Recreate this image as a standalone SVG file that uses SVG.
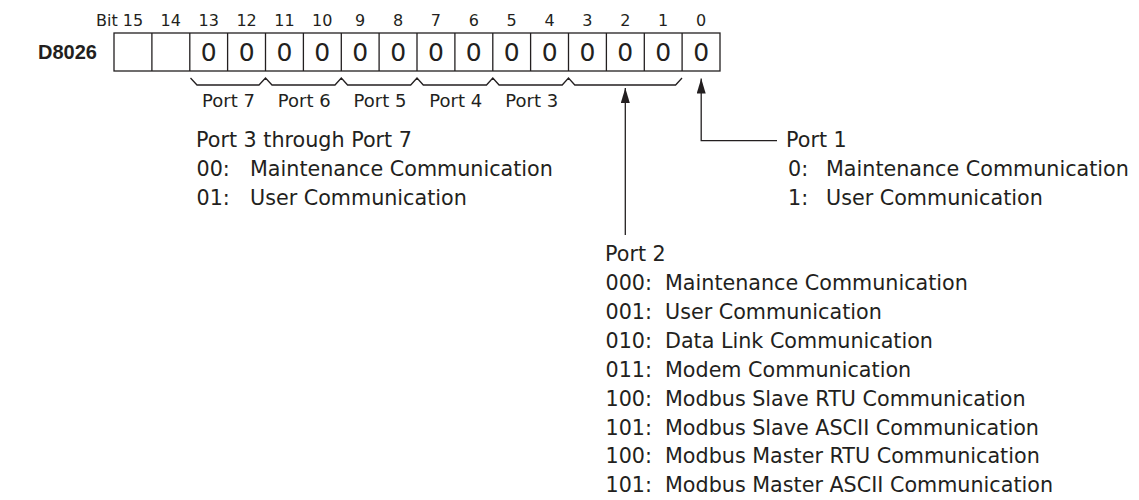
<svg xmlns="http://www.w3.org/2000/svg" width="1139" height="500" viewBox="0 0 1139 500">
<defs>
<style>
.t{font-family:"DejaVu Sans",sans-serif;fill:#231f20}
.bit{font-size:16px;text-anchor:middle}
.dig{font-size:25px;text-anchor:middle}
.pl{font-size:18px;text-anchor:middle}
.body{font-size:20.7px}
.ln{stroke:#231f20;stroke-width:1.3;fill:none}
.cell{stroke:#231f20;stroke-width:1.3;fill:#fff}
</style>
<marker id="ah" viewBox="0 0 15 9" refX="15" refY="4.5" markerWidth="15" markerHeight="9" markerUnits="userSpaceOnUse" orient="auto">
<path d="M0,0 L15,4.5 L0,9 Z" fill="#231f20"/>
</marker>
</defs>
<rect width="1139" height="500" fill="#fff"/>

<g id="register">
<text x="38" y="59" style="font-family:'Liberation Sans',Arial,sans-serif;font-weight:bold;font-size:20px;fill:#231f20">D8026</text>
<rect class="cell" x="114" y="33" width="606" height="38"/>
<path class="ln" d="M151.9,33V71M189.8,33V71M227.6,33V71M265.5,33V71M303.4,33V71M341.3,33V71M379.1,33V71M417,33V71M454.9,33V71M492.8,33V71M530.6,33V71M568.5,33V71M606.4,33V71M644.3,33V71M682.1,33V71"/>
<g class="t bit">
<text x="143.2" y="26" style="text-anchor:end">Bit 15</text>
<text x="170.8" y="26">14</text>
<text x="208.7" y="26">13</text>
<text x="246.6" y="26">12</text>
<text x="284.4" y="26">11</text>
<text x="322.3" y="26">10</text>
<text x="360.2" y="26">9</text>
<text x="398.1" y="26">8</text>
<text x="435.9" y="26">7</text>
<text x="473.8" y="26">6</text>
<text x="511.7" y="26">5</text>
<text x="549.6" y="26">4</text>
<text x="587.4" y="26">3</text>
<text x="625.3" y="26">2</text>
<text x="663.2" y="26">1</text>
<text x="701.1" y="26">0</text>
</g>
<g class="t dig">
<text x="208.7" y="61">0</text>
<text x="246.6" y="61">0</text>
<text x="284.4" y="61">0</text>
<text x="322.3" y="61">0</text>
<text x="360.2" y="61">0</text>
<text x="398.1" y="61">0</text>
<text x="435.9" y="61">0</text>
<text x="473.8" y="61">0</text>
<text x="511.7" y="61">0</text>
<text x="549.6" y="61">0</text>
<text x="587.4" y="61">0</text>
<text x="625.3" y="61">0</text>
<text x="663.2" y="61">0</text>
<text x="701.1" y="61">0</text>
</g>
</g>

<g id="braces">
<path class="ln" d="M190.5,78 L197,85 L259,85 L265.5,78 L272,85 L335,85 L341.3,78 L347.6,85 L410.7,85 L417,78 L423.3,85 L486.5,85 L492.8,78 L499.1,85 L562.2,85 L568.5,78 L574.8,85 L675.6,85 L682,78"/>
<g class="t pl">
<text x="228.5" y="107">Port 7</text>
<text x="304.2" y="107">Port 6</text>
<text x="380" y="107">Port 5</text>
<text x="455.8" y="107">Port 4</text>
<text x="531.7" y="107">Port 3</text>
</g>
</g>

<g id="connectors">
<path class="ln" d="M625.3,235 V88" marker-end="url(#ah)"/>
<path class="ln" d="M777,140.7 H701.2 V78.5" marker-end="url(#ah)"/>
</g>

<g id="ports3to7" class="t body">
<text x="196" y="147">Port 3 through Port 7</text>
<text x="196.5" y="176">00:<tspan x="250">Maintenance Communication</tspan></text>
<text x="196.5" y="205">01:<tspan x="250">User Communication</tspan></text>
</g>

<g id="port1" class="t body">
<text x="786" y="147">Port 1</text>
<text x="788" y="176">0:<tspan x="826">Maintenance Communication</tspan></text>
<text x="788" y="205">1:<tspan x="826">User Communication</tspan></text>
</g>

<g id="port2" class="t body">
<text x="605" y="261">Port 2</text>
<text x="605.5" y="290">000:<tspan x="665">Maintenance Communication</tspan></text>
<text x="605.5" y="319">001:<tspan x="665">User Communication</tspan></text>
<text x="605.5" y="348">010:<tspan x="665">Data Link Communication</tspan></text>
<text x="605.5" y="377">011:<tspan x="665">Modem Communication</tspan></text>
<text x="605.5" y="405.5">100:<tspan x="665">Modbus Slave RTU Communication</tspan></text>
<text x="605.5" y="434.5">101:<tspan x="665">Modbus Slave ASCII Communication</tspan></text>
<text x="605.5" y="463">100:<tspan x="665">Modbus Master RTU Communication</tspan></text>
<text x="605.5" y="492">101:<tspan x="665">Modbus Master ASCII Communication</tspan></text>
</g>
</svg>
